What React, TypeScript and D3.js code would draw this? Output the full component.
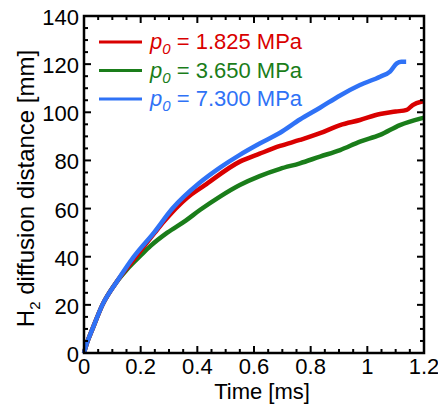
import { useEffect, useRef } from 'react'
import * as d3 from 'd3'

const W = 438
const H = 405
const M = { top: 16, right: 14, bottom: 52, left: 84 }

// time [ms] / distance [mm]
const redT = [0, 0.01, 0.03, 0.065, 0.118, 0.18, 0.25, 0.282, 0.364, 0.424, 0.55, 0.62, 0.692, 0.762, 0.833, 0.904, 0.974, 1.045, 1.1, 1.139, 1.16, 1.19, 1.2]
const redV = [0, 4, 10, 20, 30, 39.5, 50, 54.6, 64.5, 69.5, 79.5, 82.8, 86, 88.5, 91.3, 94.7, 96.8, 99.3, 100.3, 101, 103, 104.4, 104.6]
const greenT = [0, 0.01, 0.03, 0.065, 0.118, 0.15, 0.2, 0.235, 0.294, 0.359, 0.409, 0.48, 0.55, 0.62, 0.692, 0.762, 0.833, 0.904, 0.974, 1.045, 1.115, 1.19, 1.2]
const greenV = [0, 4, 10, 20, 30, 34.5, 40.5, 44.5, 50, 55, 59.4, 65, 69.8, 73.5, 76.5, 78.8, 81.6, 84.3, 87.8, 90.6, 94.7, 97.5, 97.8]
const blueT = [0, 0.01, 0.03, 0.065, 0.118, 0.176, 0.247, 0.312, 0.406, 0.48, 0.55, 0.62, 0.692, 0.762, 0.833, 0.904, 0.974, 1.045, 1.08, 1.104, 1.12, 1.137]
const blueV = [0, 4, 10, 20, 30, 40, 50, 60, 70.5, 77, 82.3, 87, 91.5, 97, 101.9, 107, 111.3, 114.8, 116.9, 120.3, 121, 121]

const legendValues = ['1.825', '3.650', '7.300']
const colors = ['#d90000', '#1a7d1a', '#2f72f6']
const xTicks = [0, 0.2, 0.4, 0.6, 0.8, 1, 1.2]
const yTicks = [0, 20, 40, 60, 80, 100, 120, 140]

const FONT = '"Liberation Sans", Arial, Helvetica, sans-serif'

export default function App() {
  const svgRef = useRef<SVGSVGElement>(null)

  useEffect(() => {
    if (!svgRef.current) return
    const svg = d3.select(svgRef.current)
    svg.selectAll('*').remove()

    const x = d3.scaleLinear().domain([0, 1.2]).range([M.left, W - M.right])
    const y = d3.scaleLinear().domain([0, 140]).range([H - M.bottom, M.top])
    const x0 = x(0), x1 = x(1.2), y0 = y(0), y1 = y(140)

    const series = [
      { t: greenT, v: greenV, col: colors[1] },
      { t: redT, v: redV, col: colors[0] },
      { t: blueT, v: blueV, col: colors[2] },
    ]
    const line = d3.line<[number, number]>()
      .x(d => x(d[0])).y(d => y(d[1]))
      .curve(d3.curveMonotoneX)

    const plot = svg.append('g')
    series.forEach(s => {
      plot.append('path')
        .attr('d', line(s.t.map((t, i) => [t, s.v[i]] as [number, number])))
        .attr('fill', 'none').attr('stroke', s.col).attr('stroke-width', 4.5)
        .attr('stroke-linejoin', 'round')
    })

    // ticks, pointing inward on all four sides
    const tk = svg.append('g').attr('stroke', '#000').attr('stroke-width', 2)
    d3.range(0, 1.2001, 0.05).forEach(t => {
      const major = Math.abs(t * 5 - Math.round(t * 5)) < 1e-6
      const len = major ? 7 : 4
      tk.append('line').attr('x1', x(t)).attr('x2', x(t)).attr('y1', y0).attr('y2', y0 - len)
      tk.append('line').attr('x1', x(t)).attr('x2', x(t)).attr('y1', y1).attr('y2', y1 + len)
    })
    d3.range(0, 140.001, 5).forEach(v => {
      const len = v % 20 === 0 ? 7 : 4
      tk.append('line').attr('x1', x0).attr('x2', x0 + len).attr('y1', y(v)).attr('y2', y(v))
      tk.append('line').attr('x1', x1).attr('x2', x1 - len).attr('y1', y(v)).attr('y2', y(v))
    })

    svg.append('rect')
      .attr('x', x0).attr('y', y1).attr('width', x1 - x0).attr('height', y0 - y1)
      .attr('fill', 'none').attr('stroke', '#000').attr('stroke-width', 2.5)

    const txt = svg.append('g').attr('font-family', FONT).attr('font-size', 22).attr('fill', '#000')
    xTicks.forEach(t => {
      txt.append('text').attr('x', x(t)).attr('y', y0 + 21)
        .attr('text-anchor', 'middle').text(String(t))
    })
    yTicks.forEach(v => {
      txt.append('text').attr('x', x0 - 5).attr('y', y(v) + 9)
        .attr('text-anchor', 'end').text(String(v))
    })

    txt.append('text').attr('x', (x0 + x1) / 2 + 8).attr('y', y0 + 46)
      .attr('font-size', 22)
      .attr('text-anchor', 'middle').text('Time [ms]')

    const yl = txt.append('text')
      .attr('transform', `translate(34,${(y0 + y1) / 2 + 4}) rotate(-90)`)
      .attr('font-size', 24)
      .attr('text-anchor', 'middle')
    yl.append('tspan').text('H')
    yl.append('tspan').attr('font-size', 15).attr('dy', 6).text('2')
    yl.append('tspan').attr('dy', -6).text(' diffusion distance [mm]')

    // legend
    const lg = svg.append('g').attr('font-family', FONT).attr('font-size', 22)
    legendValues.forEach((val, i) => {
      const ly = 42 + i * 28.5
      lg.append('line').attr('x1', 99).attr('x2', 142).attr('y1', ly).attr('y2', ly)
        .attr('stroke', colors[i]).attr('stroke-width', 3)
      const t = lg.append('text').attr('x', 150).attr('y', ly + 7).attr('fill', colors[i])
      t.append('tspan').attr('font-style', 'italic').text('p')
      t.append('tspan').attr('font-style', 'italic').attr('font-size', 15).attr('dy', 5).text('0')
      t.append('tspan').attr('dy', -5).text(` = ${val} MPa`)
    })
  }, [])

  return (
    <svg ref={svgRef} width={W} height={H}
      style={{ position: 'absolute', left: 0, top: 0, display: 'block', background: '#fff' }} />
  )
}
